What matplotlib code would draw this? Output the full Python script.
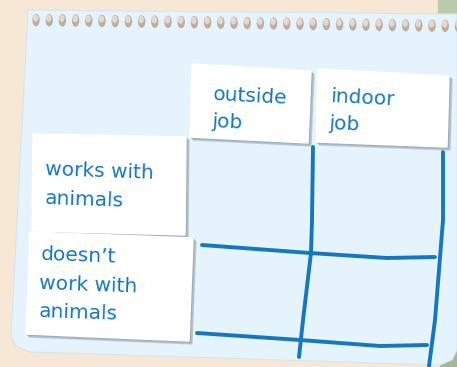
import numpy as np
import matplotlib.pyplot as plt
from matplotlib.patches import Polygon, Ellipse

# labels on the cards
col_labels = ["outside\njob", "indoor\njob"]
row_labels = ["works with\nanimals", "doesn’t\nwork with\nanimals"]

# card corners (pixel coords: tl, tr, br, bl)
col_cards = [
    [(192, 64), (311, 71), (308, 143), (190, 137)],
    [(318, 69), (449, 76), (447, 147), (316, 142)],
]
row_cards = [
    [(33, 134), (186, 137), (185, 235), (32, 231)],
    [(30, 232), (193, 238), (189, 341), (26, 334)],
]
col_text_pos = [(214, 85), (331, 87)]
row_text_pos = [(46, 160), (41, 245)]

# hand drawn grid lines
grid_lines = [
    [(313, 147), (312, 220), (311, 253), (303, 320), (299, 357)],
    [(443, 152), (443, 220), (435, 320), (429, 366)],
    [(202, 245), (310, 253), (387, 258), (435, 257)],
    [(197, 333), (300, 340), (380, 346), (427, 345)],
]

# paper outline
paper = [(28, 10), (457, 14), (457, 350), (452, 360), (440, 365),
         (30, 352), (16, 346), (11, 335), (13, 300)]

BLUE = "#1577c0"
PAPER = "#e5f4fc"
BG = "#f7e8d6"

fig = plt.figure(figsize=(4.57, 3.67), dpi=100)
ax = fig.add_axes([0, 0, 1, 1])
ax.set_xlim(0, 457)
ax.set_ylim(367, 0)
ax.axis("off")
fig.patch.set_facecolor(BG)

# background strips
ax.add_patch(Polygon([(438, 0), (457, 0), (457, 20), (438, 20)], color="#b9cba9", zorder=0))
ax.add_patch(Polygon([(440, 280), (457, 280), (457, 367), (440, 367)], color="#a9b59a", zorder=0))

# paper
ax.add_patch(Polygon(paper, closed=True, facecolor=PAPER, edgecolor="#d4e6ee", lw=0.8, zorder=1))

# torn holes along the top
xs = np.arange(36, 460, 13.2)
for i, x in enumerate(xs):
    y = 20 + 6 * (x - 36) / 420
    ax.add_patch(Ellipse((x, y), 6, 11, color="#bfae9f", zorder=2))
    ax.add_patch(Ellipse((x - 0.5, y - 2), 4, 6, color="#e4d9cf", zorder=2))

# cards with shadow
def card(pts, zorder):
    sh = [(x + 3, y + 3) for x, y in pts]
    ax.add_patch(Polygon(sh, color="#9aa6ad", alpha=0.45, zorder=zorder))
    sh2 = [(x + 1.5, y + 1.5) for x, y in pts]
    ax.add_patch(Polygon(sh2, color="#8a969c", alpha=0.4, zorder=zorder))
    ax.add_patch(Polygon(pts, color="white", zorder=zorder + 0.1))

for pts in col_cards:
    card(pts, 4)
for pts in row_cards:
    card(pts, 4)

for lab, (x, y) in zip(col_labels, col_text_pos):
    ax.text(x, y, lab, color=BLUE, fontsize=14.5, family="DejaVu Sans", rotation=-3,
            ha="left", va="top", linespacing=1.55, rotation_mode="anchor", zorder=6)
for lab, (x, y) in zip(row_labels, row_text_pos):
    ax.text(x, y, lab, color=BLUE, fontsize=14.5, family="DejaVu Sans", rotation=-2,
            ha="left", va="top", linespacing=1.65, rotation_mode="anchor", zorder=6)

for pts in grid_lines:
    xy = np.array(pts)
    ax.plot(xy[:, 0], xy[:, 1], color=BLUE, lw=2.8, solid_capstyle="round",
            solid_joinstyle="round", zorder=3)

plt.savefig("out.png", dpi=100, facecolor=BG)
